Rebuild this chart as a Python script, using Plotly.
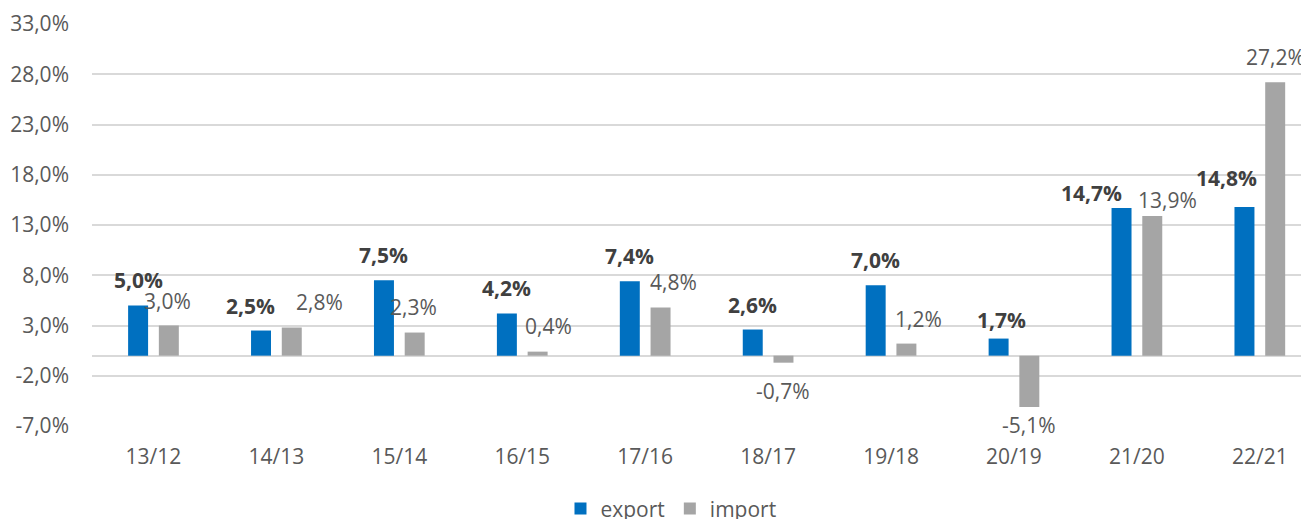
import plotly.graph_objects as go

categories = ["13/12", "14/13", "15/14", "16/15", "17/16", "18/17", "19/18", "20/19", "21/20", "22/21"]
export_vals = [5.0, 2.5, 7.5, 4.2, 7.4, 2.6, 7.0, 1.7, 14.7, 14.8]
import_vals = [3.0, 2.8, 2.3, 0.4, 4.8, -0.7, 1.2, -5.1, 13.9, 27.2]
y_ticks = [-7, -2, 3, 8, 13, 18, 23, 28, 33]

# data-label placement (pixel offsets of each label from the end of its bar)
export_label_dx = [0, -11, 0, 0, 0, 0, 0, 3, -30, -18]
export_label_dy = [25, 25, 25, 25, 25, 25, 25, 19, 15, 29]
import_label_dx = [-1, 28, -1, 11, 13, 0, 12, 0, 15, 0]
import_label_dy = [25, 26, 26, 26, 25, -28, 25, -18, 16, 25]


def pct(v):
    return f"{v:.1f}%".replace(".", ",")


FONT = "Open Sans, Segoe UI, DejaVu Sans, sans-serif"
FS = 21
BARGAP = 0.5
SLOT = (1 - BARGAP) / 2  # width of one bar slot in category units

fig = go.Figure()
fig.add_trace(go.Bar(
    name="export", x=categories, y=export_vals,
    marker=dict(color="#0070C0", line=dict(width=0)),
))
fig.add_trace(go.Bar(
    name="import", x=categories, y=import_vals,
    marker=dict(color="#A5A5A5", line=dict(width=0)),
))

annotations = []
for vals, off, dxs, dys, bold, col in [
    (export_vals, -SLOT / 2, export_label_dx, export_label_dy, True, "#404040"),
    (import_vals, SLOT / 2, import_label_dx, import_label_dy, False, "#595959"),
]:
    for i, v in enumerate(vals):
        txt = pct(v)
        if bold:
            txt = f"<b>{txt}</b>"
        annotations.append(dict(
            x=i + off, y=v, xref="x", yref="y", text=txt, showarrow=False,
            xanchor="center", yanchor="middle",
            xshift=dxs[i], yshift=dys[i],
            font=dict(family=FONT, size=FS, color=col),
        ))

fig.update_layout(
    width=1301, height=511,
    margin=dict(l=84, r=0, t=16, b=93),
    paper_bgcolor="white", plot_bgcolor="white",
    barmode="group", bargap=BARGAP, bargroupgap=0.35,
    font=dict(family=FONT, size=FS, color="#595959"),
    showlegend=True,
    legend=dict(orientation="h", xref="container", yref="container",
                x=0.5096, xanchor="center", y=0.02, yanchor="middle",
                font=dict(family=FONT, size=FS, color="#595959"),
                traceorder="normal"),
    annotations=annotations,
)
fig.update_xaxes(
    type="category", range=[-0.5, 9.4],
    showgrid=False, showline=False, ticks="",
    ticklabelstandoff=16,
    tickfont=dict(family=FONT, size=FS, color="#595959"),
)
fig.update_yaxes(
    range=[-7, 33], tickvals=y_ticks, ticktext=[pct(t) for t in y_ticks],
    showgrid=True, gridcolor="#D9D9D9", gridwidth=1.5,
    zeroline=True, zerolinecolor="#D9D9D9", zerolinewidth=1.5,
    showline=False, ticks="", ticklabelstandoff=22,
    tickfont=dict(family=FONT, size=FS, color="#595959"),
)

fig.write_html("out.html")
